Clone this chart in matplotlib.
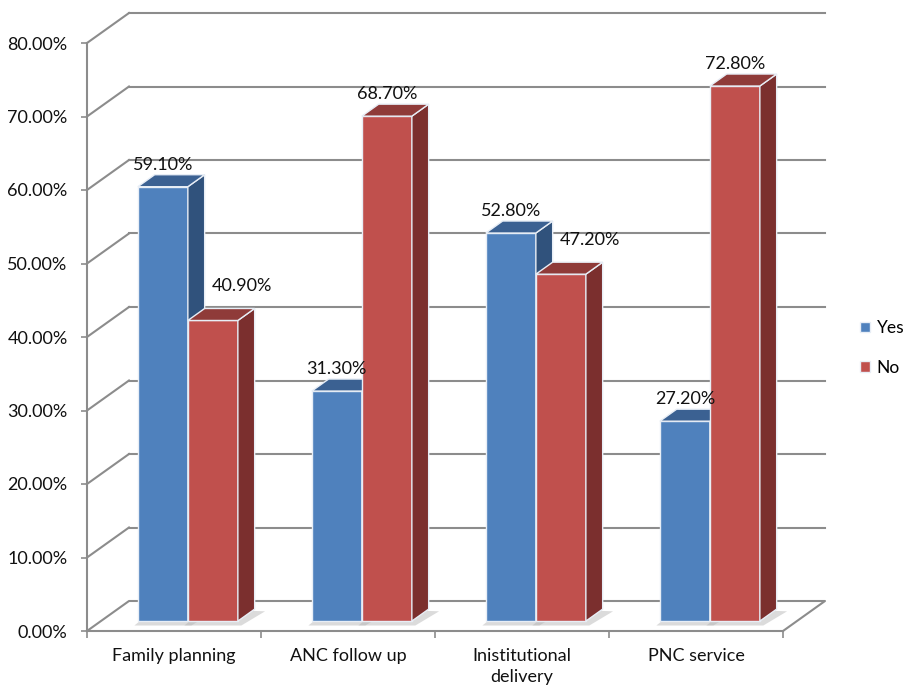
#!/usr/bin/env python3

import matplotlib.pyplot as plt
from matplotlib.patches import Polygon

categories = ['Family planning', 'ANC follow up', 'Inistitutional\ndelivery', 'PNC service']
yes_vals = [59.1, 31.3, 52.8, 27.2]
no_vals = [40.9, 68.7, 47.2, 72.8]
series_names = ['Yes', 'No']
y_ticks = [0, 10, 20, 30, 40, 50, 60, 70, 80]

plt.rcParams['font.family'] = ['Lato', 'DejaVu Sans']

W, H = 907, 689
fig = plt.figure(figsize=(W / 100, H / 100), dpi=100)
# front plane of the box: x 87..783 px, y 631..43 px
ax = fig.add_axes([87 / W, (H - 631) / H, 696 / W, 588 / H])
ax.set_xlim(0, 4)
ax.set_ylim(0, 80)

grid_col = '#8c8c8c'
txt_col = '#111111'
fs = 13
# depth of the box in data units (42 px right, 30 px up)
DX = 42 / 174
DY = 30 / 7.35

# back wall gridlines + diagonals
for v in y_ticks:
    if v == 0:
        continue
    ax.plot([DX, 4 + DX], [v + DY, v + DY], color=grid_col, lw=1.5, clip_on=False, zorder=1)
    ax.plot([0, DX], [v, v + DY], color=grid_col, lw=1.5, clip_on=False, zorder=1)

# floor
ax.plot([0, DX, 4 + DX, 4], [0, DY, DY, 0], color=grid_col, lw=1.5, clip_on=False, zorder=1)

colors = {
    'Yes': ('#4f81bd', '#3b6192', '#30527c'),
    'No': ('#c0504d', '#8f3b39', '#7b2f2e'),
}

bw = 50 / 174
z0, z1 = 0.33, 0.73
z = 3
for i, cat in enumerate(categories):
    for j, (name, vals) in enumerate(zip(series_names, [yes_vals, no_vals])):
        v = vals[i]
        front, top, side = colors[name]
        xf = i + 0.5 - bw + j * bw + z0 * DX
        yb = z0 * DY
        ddx = (z1 - z0) * DX
        ddy = (z1 - z0) * DY
        # floor shadow
        ax.add_patch(Polygon([(xf - 0.02, yb - 0.6), (xf + bw + 0.02, yb - 0.6),
                              (xf + bw + ddx + 0.06, yb + ddy - 0.3), (xf + ddx, yb + ddy)],
                             closed=True, facecolor='#b0b0b0', alpha=0.45, lw=0,
                             clip_on=False, zorder=z))
        z += 1
        ax.bar(xf, v, bottom=yb, width=bw, align='edge', color=front,
               edgecolor='#e8eef6', linewidth=1.0, zorder=z, clip_on=False,
               label=name if i == 0 else None)
        ax.add_patch(Polygon([(xf + bw, yb), (xf + bw + ddx, yb + ddy),
                              (xf + bw + ddx, yb + v + ddy), (xf + bw, yb + v)],
                             closed=True, facecolor=side, edgecolor='#e8eef6',
                             lw=1.0, clip_on=False, zorder=z))
        ax.add_patch(Polygon([(xf, yb + v), (xf + bw, yb + v),
                              (xf + bw + ddx, yb + v + ddy), (xf + ddx, yb + v + ddy)],
                             closed=True, facecolor=top, edgecolor='#e8eef6',
                             lw=1.0, clip_on=False, zorder=z))
        z += 1
        # data labels; shorter No bars get their label pushed right and up
        lx, ly = 0, 7
        if j == 1 and v < yes_vals[i]:
            lx, ly = 21, 16
        ax.annotate(f'{v:.2f}%', (xf + bw / 2, yb + v + ddy), xytext=(lx, ly),
                    textcoords='offset points', ha='center', va='center',
                    fontsize=fs, color=txt_col, zorder=100, annotation_clip=False)

for s in ['top', 'right']:
    ax.spines[s].set_visible(False)
for s in ['left', 'bottom']:
    ax.spines[s].set_color(grid_col)
    ax.spines[s].set_linewidth(1.5)
    ax.spines[s].set_zorder(2)

ax.set_yticks(y_ticks)
ax.set_yticklabels([f'{t:.2f}%' for t in y_ticks])
ax.tick_params(axis='y', length=4, width=1.2, color=grid_col, pad=10, labelsize=fs,
               labelcolor=txt_col)

ax.set_xticks(range(5))
ax.set_xticklabels([])
ax.tick_params(axis='x', which='major', length=5, width=1.2, color=grid_col)
ax.set_xticks([i + 0.5 for i in range(4)], minor=True)
ax.set_xticklabels(categories, minor=True, fontsize=fs, color=txt_col, linespacing=1.4)
ax.tick_params(axis='x', which='minor', length=0, pad=12)

ax.legend(loc='center left', bbox_to_anchor=(860 / W, (H - 348) / H),
          bbox_transform=fig.transFigure, frameon=False, fontsize=12.5, borderpad=0,
          borderaxespad=0, handlelength=0.55, handleheight=0.55, handletextpad=0.4,
          labelspacing=1.35)

plt.savefig('out.png', dpi=100)
plt.close()
